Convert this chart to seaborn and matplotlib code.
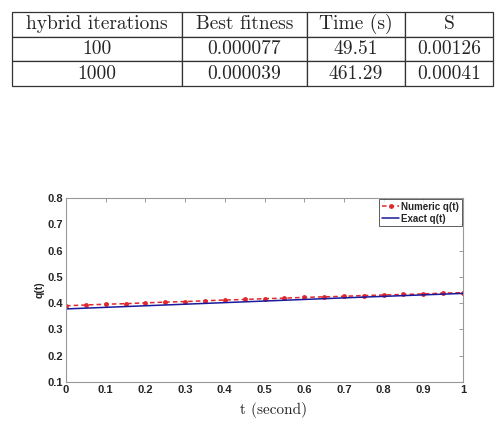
import numpy as np
import pandas as pd
import seaborn as sns
import matplotlib.pyplot as plt

# table data
col_labels = ['hybrid iterations', 'Best fitness', 'Time (s)', 'S']
row_100 = ['100', '0.000077', '49.51', '0.00126']
row_1000 = ['1000', '0.000039', '461.29', '0.00041']

# curve data
t_num = [0.0, 0.05, 0.1, 0.15, 0.2, 0.25, 0.3, 0.35, 0.4, 0.45, 0.5,
         0.55, 0.6, 0.65, 0.7, 0.75, 0.8, 0.85, 0.9, 0.95, 1.0]
q_num = [0.390, 0.393, 0.396, 0.398, 0.401, 0.404, 0.406, 0.409, 0.412, 0.414, 0.417,
         0.419, 0.422, 0.424, 0.426, 0.429, 0.431, 0.433, 0.435, 0.438, 0.440]
t_exact = [0.0, 0.25, 0.5, 0.75, 1.0]
q_exact = [0.378, 0.393, 0.408, 0.423, 0.437]

sns.set_style('white')
plt.rcParams['axes.unicode_minus'] = False

fig = plt.figure(figsize=(4.96, 4.30), dpi=100)

# --- table ---
tax = fig.add_axes([12 / 496, 1 - 86 / 430, 481 / 496, 74 / 430])
tax.axis('off')
widths = np.array([170, 125, 98, 88]) / 481
tbl = tax.table(cellText=[row_100, row_1000], colLabels=col_labels,
                colWidths=list(widths), cellLoc='center', bbox=[0, 0, 1, 1])
tbl.auto_set_font_size(False)
for (r, c), cell in tbl.get_celld().items():
    cell.set_edgecolor('#333333')
    cell.set_linewidth(0.9)
    cell.get_text().set_fontfamily('cmr10')
    cell.get_text().set_fontsize(14)

# --- plot ---
ax = fig.add_axes([66 / 496, 48 / 430, 397 / 496, 184 / 430])
df_num = pd.DataFrame({'t': t_num, 'q': q_num})
df_exact = pd.DataFrame({'t': t_exact, 'q': q_exact})
sns.lineplot(data=df_num, x='t', y='q', ax=ax, color='#e0282c', linestyle=(0, (3, 2)),
             marker='o', markersize=3.5, markeredgewidth=0, linewidth=1.1,
             label='Numeric q(t)')
sns.lineplot(data=df_exact, x='t', y='q', ax=ax, color='#1a1a9c', linewidth=1.1,
             label='Exact q(t)')

ax.set_xlim(0, 1)
ax.set_ylim(0.1, 0.8)
ax.set_xticks(np.arange(0, 1.01, 0.1))
ax.set_xticklabels(['0', '0.1', '0.2', '0.3', '0.4', '0.5', '0.6', '0.7', '0.8', '0.9', '1'])
ax.set_yticks(np.arange(0.1, 0.81, 0.1))
ax.set_yticklabels(['0.1', '0.2', '0.3', '0.4', '0.5', '0.6', '0.7', '0.8'])
ax.tick_params(direction='in', length=3, width=0.6, color='#888888',
               top=True, right=True, labelsize=8, pad=2)
for lab in ax.get_xticklabels() + ax.get_yticklabels():
    lab.set_fontweight('bold')
    lab.set_fontfamily('Liberation Sans')
for sp in ax.spines.values():
    sp.set_color('#999999')
    sp.set_linewidth(0.8)

ax.set_xlabel('t (second)', fontfamily='cmr10', fontsize=11)
ax.xaxis.set_label_coords(0.524, -0.11)
ax.set_ylabel('q(t)', fontfamily='Liberation Sans', fontweight='bold', fontsize=7.5, labelpad=2)

leg = ax.legend(loc='upper right', fontsize=7, frameon=True, fancybox=False,
                handlelength=1.8, handletextpad=0.2, borderpad=0.25,
                labelspacing=0.2, borderaxespad=0.15)
leg.get_frame().set_edgecolor('#333333')
leg.get_frame().set_linewidth(0.7)
for txt in leg.get_texts():
    txt.set_fontweight('bold')
    txt.set_fontfamily('Liberation Sans')

fig.savefig('out.png', dpi=100)
